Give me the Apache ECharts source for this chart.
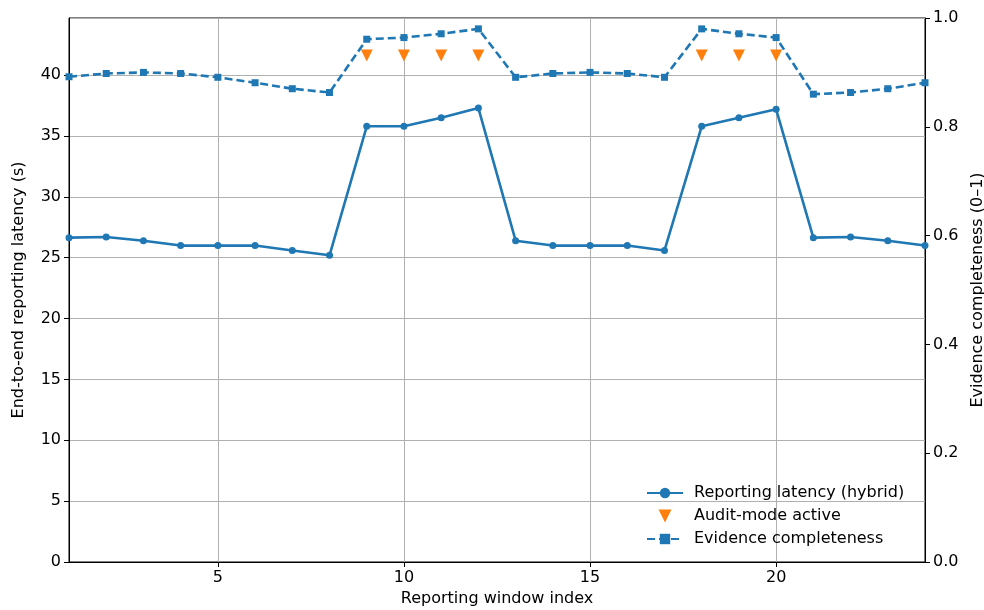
<!DOCTYPE html>
<html lang="en">
<head>
<meta charset="UTF-8">
<title>Reporting latency</title>
<script src="https://cdn.jsdelivr.net/npm/echarts@6/dist/echarts.min.js"></script>
<style>
body{margin:0;background:#fff}
#main{width:984px;height:610px}
</style>
</head>
<body>
<div id="main"></div>
<script type="text/javascript">
// reporting windows 1..24
var windows = [1,2,3,4,5,6,7,8,9,10,11,12,13,14,15,16,17,18,19,20,21,22,23,24];
var latency = [26.65,26.7,26.4,26.0,26.0,26.0,25.6,25.2,35.8,35.8,36.5,37.3,
               26.4,26.0,26.0,26.0,25.6,35.8,36.5,37.2,26.65,26.7,26.4,26.0];
var completeness = [0.892,0.898,0.900,0.898,0.891,0.881,0.870,0.863,0.961,0.964,0.971,0.980,
                    0.891,0.898,0.900,0.898,0.891,0.980,0.971,0.964,0.860,0.863,0.870,0.881];
var auditWindows = [9,10,11,12,18,19,20];
var auditLevel = [0.931,0.931,0.931,0.931,0.931,0.931,0.931];
var xTicks = [5,10,15,20];

var font = 'DejaVu Sans';
var fs = 16;
var blue = '#1f77b4';
var orange = '#ff7f0e';

function pairs(xs, ys) {
    var out = [];
    for (var i = 0; i < xs.length; i++) out.push([xs[i], ys[i]]);
    return out;
}

var myChart = echarts.init(document.getElementById('main'));
myChart.setOption({
    animation: false,
    textStyle: {fontFamily: font, color: '#000'},
    grid: {
        left: 69, right: 59, top: 18, bottom: 48,
        outerBoundsMode: 'none',
        containLabel: false,
        show: true, borderColor: '#000', borderWidth: 1
    },
    legend: {
        orient: 'vertical',
        left: 641,
        top: 480,
        itemWidth: 36,
        itemHeight: 13,
        itemGap: 7,
        textStyle: {fontFamily: font, fontSize: fs, color: '#000', padding: [0, 0, 0, 6]},
        data: [
            {name: 'Reporting latency (hybrid)'},
            {name: 'Audit-mode active', icon: 'path://M0,0 L12,0 L6,12 Z'},
            {name: 'Evidence completeness'}
        ]
    },
    xAxis: {
        type: 'value',
        min: 1,
        max: 24,
        name: 'Reporting window index',
        nameLocation: 'middle',
        nameGap: 29,
        nameTextStyle: {fontFamily: font, fontSize: fs, color: '#000'},
        axisLine: {lineStyle: {color: '#000'}},
        axisTick: {length: 5, lineStyle: {color: '#000'}, customValues: xTicks},
        axisLabel: {fontFamily: font, fontSize: fs, color: '#000', margin: 8, customValues: xTicks},
        splitLine: {show: true, lineStyle: {color: '#b0b0b0', width: 1}}
    },
    yAxis: [
        {
            type: 'value',
            min: 0,
            max: 44.7,
            interval: 5,
            name: 'End-to-end reporting latency (s)',
            nameLocation: 'middle',
            nameGap: 42,
            nameTextStyle: {fontFamily: font, fontSize: fs, color: '#000'},
            axisLine: {show: true, lineStyle: {color: '#000'}},
            axisTick: {show: true, length: 5, lineStyle: {color: '#000'}},
            axisLabel: {fontFamily: font, fontSize: fs, color: '#000', margin: 8,
                showMaxLabel: false},
            splitLine: {show: true, lineStyle: {color: '#b0b0b0', width: 1}}
        },
        {
            type: 'value',
            min: 0,
            max: 1,
            interval: 0.2,
            position: 'right',
            name: 'Evidence completeness (0\u20131)',
            nameLocation: 'middle',
            nameGap: 44,
            nameRotate: 90,
            nameTextStyle: {fontFamily: font, fontSize: fs, color: '#000'},
            axisLine: {show: true, lineStyle: {color: '#000'}},
            axisTick: {show: true, length: 5, lineStyle: {color: '#000'}},
            axisLabel: {fontFamily: font, fontSize: fs, color: '#000', margin: 8,
                formatter: function (v) { return v.toFixed(1); }},
            splitLine: {show: false}
        }
    ],
    series: [
        {
            name: 'Reporting latency (hybrid)',
            type: 'line',
            yAxisIndex: 0,
            data: pairs(windows, latency),
            symbol: 'circle',
            symbolSize: 7,
            color: blue,
            lineStyle: {width: 2.6, color: blue},
            itemStyle: {color: blue}
        },
        {
            name: 'Audit-mode active',
            type: 'scatter',
            yAxisIndex: 1,
            data: pairs(auditWindows, auditLevel),
            symbol: 'triangle',
            symbolRotate: 180,
            symbolSize: [12, 12],
            color: orange,
            itemStyle: {color: orange, opacity: 1}
        },
        {
            name: 'Evidence completeness',
            type: 'line',
            yAxisIndex: 1,
            data: pairs(windows, completeness),
            symbol: 'rect',
            symbolSize: 7,
            color: blue,
            lineStyle: {width: 2.6, color: blue, type: [8, 4]},
            itemStyle: {color: blue}
        }
    ]
});
</script>
</body>
</html>
